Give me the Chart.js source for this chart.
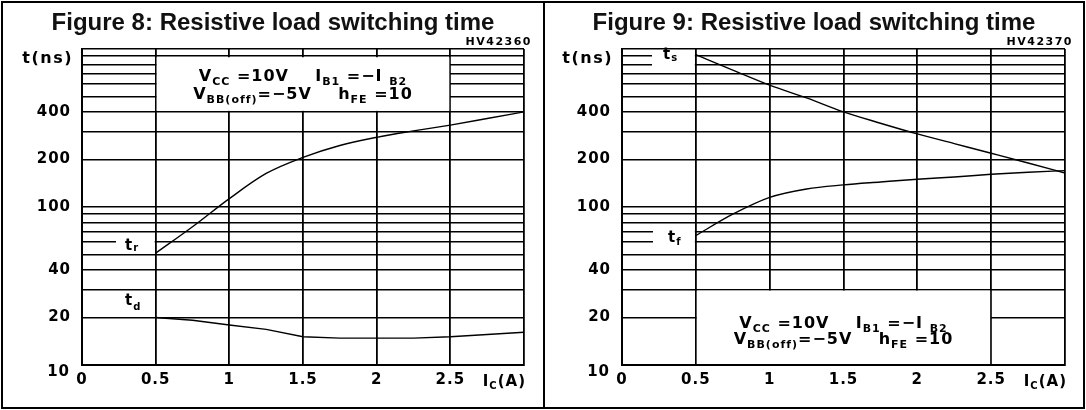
<!DOCTYPE html>
<html>
<head>
<meta charset="utf-8">
<script src="https://cdn.jsdelivr.net/npm/chart.js@4.4.0/dist/chart.umd.min.js"></script>
<style>
html, body { margin: 0; padding: 0; background: #fff; }
body { width: 1086px; height: 410px; position: relative; overflow: hidden; }
canvas { position: absolute; top: 0; }
#fig8 { left: 0; }
#fig9 { left: 543px; }
.frame { position: absolute; top: 1px; height: 408px; box-sizing: border-box; border: 2px solid #000; pointer-events: none; }
#frame8 { left: 1px; width: 544px; }
#frame9 { left: 543px; width: 542px; }
</style>
</head>
<body>
<canvas id="fig8" width="543" height="410"></canvas>
<canvas id="fig9" width="543" height="410"></canvas>
<div class="frame" id="frame8"></div>
<div class="frame" id="frame9"></div>
<script>
// valores (Ic en A, tiempos en ns)
const currentA = [0.5, 0.75, 1, 1.25, 1.5, 1.75, 2, 2.25, 2.5, 2.75, 3];
const riseNs = [51, 75, 113, 163, 206, 245, 276, 303, 330, 363, 400];
const delayNs = [20, 19.2, 17.9, 16.8, 15.1, 14.8, 14.8, 14.8, 15.1, 15.6, 16.1];
const storageNs = [920, 735, 590, 490, 400, 339, 290, 252, 219, 190, 164];
const fallNs = [66, 90, 115, 130, 138, 144, 150, 155, 161, 166, 170];

// ejes
const gridNs = [10, 20, 30, 40, 50, 60, 70, 80, 90, 100, 200, 300, 400, 500, 600, 700, 800, 900, 1000];
const yTickLabels = [20, 40, 100, 200, 400];
const xTicks = [0, 0.5, 1, 1.5, 2, 2.5, 3];
const xTickLabels = ['0', '0.5', '1', '1.5', '2', '2.5', ''];

let MAIN = 'bold 15px "DejaVu Sans"';
let SUB = 'bold 10px "DejaVu Sans"';

Chart.defaults.color = '#000';

// texto con subíndices: parts = [[texto, esSub], ...]
function drawRich(ctx, parts, x, y, align, drop) {
    let w = 0;
    parts.forEach(p => { ctx.font = p[1] ? SUB : MAIN; w += ctx.measureText(p[0]).width; });
    let cx = align === 'center' ? x - w / 2 : (align === 'right' ? x - w : x);
    ctx.textAlign = 'left';
    ctx.textBaseline = 'alphabetic';
    parts.forEach(p => {
        ctx.font = p[1] ? SUB : MAIN;
        ctx.fillText(p[0], cx, p[1] ? y + (drop ?? 4) : y);
        cx += ctx.measureText(p[0]).width;
    });
}

const condLine1 = [['V'], ['CC', 1], [' =10V    I'], ['B1', 1], [' =\u2212I '], ['B2', 1]];
const condLine2 = [['V'], ['BB(off)', 1], ['=\u22125V    h'], ['FE', 1], [' =10']];

function decoPlugin(spec) {
    return {
        id: 'deco',
        beforeDraw(chart) {
            chart.ctx.letterSpacing = '1px';
        },
        beforeDatasetsDraw(chart) {
            const ctx = chart.ctx, xs = chart.scales.x, ys = chart.scales.y;
            const area = chart.chartArea;
            ctx.save();
            ctx.fillStyle = '#fff';
            // recuadro de condiciones
            const b = spec.box;
            const l = xs.getPixelForValue(b.x0), r = xs.getPixelForValue(b.x1);
            const t = ys.getPixelForValue(b.y1), bt = ys.getPixelForValue(b.y0);
            ctx.fillRect(l + 1, t + 1, r - l - 2, bt - t - 2);
            // huecos en la rejilla para las etiquetas de curva
            const x05 = xs.getPixelForValue(0.5);
            spec.tags.forEach(tag => {
                if (!tag.hide) return;
                const px = area.left + tag.patchFrom;
                const py0 = ys.getPixelForValue(tag.hide[1]), py1 = ys.getPixelForValue(tag.hide[0]);
                ctx.fillRect(px, py0, x05 - 1 - px, py1 - py0);
            });
            ctx.fillStyle = '#000';
            // condiciones de medida, letra algo mayor
            MAIN = 'bold 16px "DejaVu Sans"';
            SUB = 'bold 11px "DejaVu Sans"';
            ctx.letterSpacing = '1px';
            const cxm = (l + r) / 2, cym = (t + bt) / 2;
            drawRich(ctx, condLine1, cxm, cym + spec.boxText[0], 'center');
            drawRich(ctx, condLine2, cxm, cym + spec.boxText[1], 'center');
            MAIN = 'bold 15px "DejaVu Sans"';
            SUB = 'bold 10px "DejaVu Sans"';
            spec.tags.forEach(tag => {
                drawRich(ctx, [['t'], [tag.sub, 1]], area.left + tag.dx,
                    ys.getPixelForValue(tag.at) + tag.dy, 'left', tag.drop);
            });
            ctx.restore();
        },
        afterDraw(chart) {
            const ctx = chart.ctx, ys = chart.scales.y;
            const area = chart.chartArea;
            ctx.save();
            // título
            ctx.letterSpacing = '0px';
            ctx.font = 'bold 24px "Liberation Sans", Arial, sans-serif';
            ctx.textAlign = 'center';
            ctx.textBaseline = 'alphabetic';
            ctx.fillStyle = '#111';
            ctx.fillText(spec.title, spec.titleX, 30);
            // código de la figura
            ctx.fillStyle = '#000';
            ctx.letterSpacing = '1.5px';
            ctx.font = 'bold 11px "DejaVu Sans"';
            ctx.textAlign = 'right';
            ctx.fillText(spec.code, area.right + 8, 45);
            // etiquetas extremas del eje y
            ctx.font = 'bold 16px "DejaVu Sans"';
            ctx.letterSpacing = '1.5px';
            ctx.fillText('t(ns)', area.left - 9, ys.getPixelForValue(1000) + 14);
            ctx.font = MAIN;
            ctx.letterSpacing = '1px';
            ctx.fillText('10', area.left - 12, ys.getPixelForValue(10) + 11);
            // título del eje x
            drawRich(ctx, [['I'], ['C', 1], ['(A)']], area.right + 2, area.bottom + 21, 'right', 3);
            ctx.restore();
        }
    };
}

function makeChart(id, series, spec) {
    const canvas = document.getElementById(id);
    return new Chart(canvas.getContext('2d'), {
        type: 'line',
        data: {
            datasets: series.map(s => ({
                data: currentA.map((a, i) => ({ x: a, y: s.values[i] })),
                borderColor: '#000',
                borderWidth: 1.4,
                pointRadius: 0,
                fill: false,
                tension: s.smooth ? 0.4 : 0,
                cubicInterpolationMode: s.smooth ? 'monotone' : 'default'
            }))
        },
        options: {
            responsive: false,
            animation: false,
            events: [],
            layout: { padding: { left: 0, right: spec.padRight, top: 49, bottom: 0 } },
            plugins: { legend: { display: false }, tooltip: { enabled: false }, title: { display: false } },
            scales: {
                x: {
                    type: 'linear', min: 0, max: 3,
                    afterBuildTicks: s => { s.ticks = xTicks.map(v => ({ value: v })); },
                    afterFit: s => { s.height = 45; },
                    grid: { color: '#000', lineWidth: 1.8, drawTicks: false },
                    border: { color: '#000', width: 2 },
                    ticks: {
                        font: { family: 'DejaVu Sans', size: 15, weight: 'bold' },
                        padding: 6, maxRotation: 0, autoSkip: false,
                        callback: (v, i) => xTickLabels[i]
                    }
                },
                y: {
                    type: 'logarithmic', min: 10, max: 1000,
                    afterBuildTicks: s => { s.ticks = gridNs.map(v => ({ value: v })); },
                    afterFit: s => { s.width = spec.axisWidth; },
                    grid: { color: '#000', lineWidth: 1.5, drawTicks: false },
                    border: { color: '#000', width: 2 },
                    ticks: {
                        font: { family: 'DejaVu Sans', size: 15, weight: 'bold' },
                        padding: 11, autoSkip: false,
                        callback: v => (yTickLabels.includes(v) ? String(v) : '')
                    }
                }
            }
        },
        plugins: [decoPlugin(spec)]
    });
}

makeChart('fig8', [
    { values: riseNs, smooth: true },
    { values: delayNs, smooth: false }
], {
    title: 'Figure 8: Resistive load switching time',
    titleX: 273,
    code: 'HV42360',
    axisWidth: 82,
    padRight: 19,
    box: { x0: 0.5, x1: 2.5, y0: 400, y1: 900 },
    boxText: [-3, 15],
    tags: [
        { sub: 'r', dx: 43, at: 60, dy: 8, drop: 1, hide: [55, 65], patchFrom: 34 },
        { sub: 'd', dx: 43, at: 25, dy: 3, drop: 5 }
    ]
});

makeChart('fig9', [
    { values: storageNs, smooth: true },
    { values: fallNs, smooth: true }
], {
    title: 'Figure 9: Resistive load switching time',
    titleX: 271,
    code: 'HV42370',
    axisWidth: 79,
    padRight: 21,
    box: { x0: 0.5, x1: 2.5, y0: 10, y1: 30 },
    boxText: [1, 17],
    tags: [
        { sub: 's', dx: 41, at: 900, dy: 3, drop: 2, hide: [750, 960], patchFrom: 30 },
        { sub: 'f', dx: 46, at: 65, dy: 5, drop: 3, hide: [55, 75], patchFrom: 31 }
    ]
});
</script>
</body>
</html>
